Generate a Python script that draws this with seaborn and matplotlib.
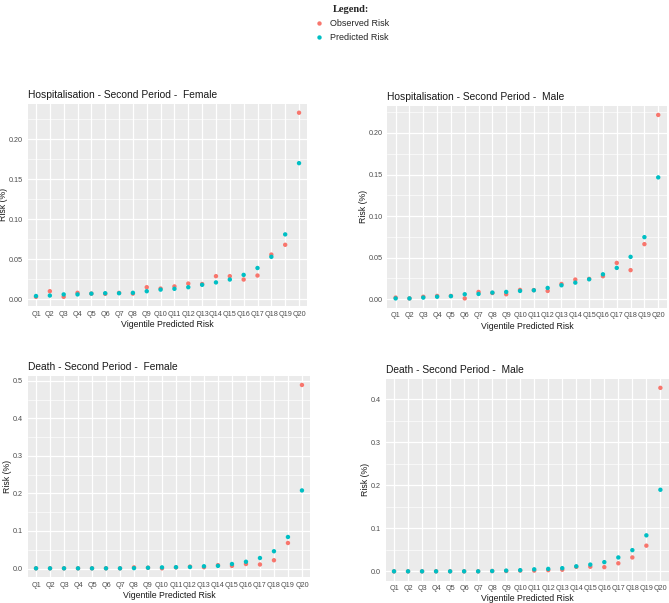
import matplotlib
matplotlib.use("Agg")
import matplotlib.pyplot as plt
import pandas as pd
import seaborn as sns
from matplotlib.ticker import FixedLocator, MultipleLocator

sns.set_theme(style="darkgrid")
plt.rcParams["font.family"] = ["Liberation Sans", "DejaVu Sans"]

# Vigentile categories
quantiles = ["Q" + str(i) for i in range(1, 21)]

# Hospitalisation - female
hosp_f_obs = [0.003, 0.010, 0.003, 0.008, 0.007, 0.0067, 0.0079, 0.007, 0.015, 0.0133,
              0.016, 0.0196, 0.019, 0.0288, 0.0288, 0.0246, 0.0296, 0.0558, 0.068, 0.233]
hosp_f_pred = [0.004, 0.0046, 0.006, 0.006, 0.007, 0.0075, 0.0075, 0.008, 0.010, 0.012,
               0.013, 0.015, 0.018, 0.021, 0.0246, 0.0304, 0.039, 0.053, 0.081, 0.170]

# Hospitalisation - male
hosp_m_obs = [0.002, 0.001, 0.003, 0.004, 0.004, 0.001, 0.0088, 0.0075, 0.006, 0.0112,
              0.011, 0.010, 0.0184, 0.0237, 0.0245, 0.0277, 0.0437, 0.035, 0.0663, 0.2217]
hosp_m_pred = [0.001, 0.001, 0.002, 0.003, 0.0037, 0.006, 0.0064, 0.008, 0.0088, 0.010,
               0.0108, 0.0136, 0.0168, 0.020, 0.024, 0.030, 0.0377, 0.051, 0.0747, 0.1466]

# Death - female
death_f_obs = [0.0005, 0.0005, 0.0005, 0.0005, 0.0005, 0.0005, 0.0005, 0.003, 0.002, 0.0005,
               0.003, 0.005, 0.0035, 0.009, 0.007, 0.012, 0.0107, 0.022, 0.068, 0.489]
death_f_pred = [0.0005, 0.0005, 0.0005, 0.0005, 0.0005, 0.0005, 0.0005, 0.001, 0.002, 0.003,
                0.0035, 0.004, 0.006, 0.007, 0.012, 0.018, 0.028, 0.046, 0.084, 0.208]

# Death - male
death_m_obs = [0.0003, 0.0003, 0.0003, 0.0003, 0.0003, 0.0003, 0.0003, 0.001, 0.001, 0.002,
               0.002, 0.003, 0.004, 0.0107, 0.011, 0.010, 0.019, 0.0326, 0.060, 0.427]
death_m_pred = [0.0003, 0.0003, 0.0003, 0.0003, 0.0003, 0.0003, 0.0003, 0.001, 0.002, 0.003,
                0.005, 0.006, 0.0077, 0.012, 0.016, 0.0217, 0.0326, 0.0496, 0.084, 0.190]

colors = {"Observed Risk": "#F8766D", "Predicted Risk": "#00BFC4"}


def long_df(obs, pred):
    d1 = pd.DataFrame({"q": range(20), "risk": obs, "type": "Observed Risk"})
    d2 = pd.DataFrame({"q": range(20), "risk": pred, "type": "Predicted Risk"})
    return pd.concat([d1, d2], ignore_index=True)


panels = [
    ("Hospitalisation - Second Period -  Female", hosp_f_obs, hosp_f_pred,
     [0.0414, 0.4925, 0.418, 0.3358], [0.0, 0.05, 0.10, 0.15, 0.20], "{:.2f}"),
    ("Hospitalisation - Second Period -  Male", hosp_m_obs, hosp_m_pred,
     [0.579, 0.4899, 0.4173, 0.3347], [0.0, 0.05, 0.10, 0.15, 0.20], "{:.2f}"),
    ("Death - Second Period -  Female", death_f_obs, death_f_pred,
     [0.0413, 0.0423, 0.4226, 0.3345], [0.0, 0.1, 0.2, 0.3, 0.4, 0.5], "{:.1f}"),
    ("Death - Second Period -  Male", death_m_obs, death_m_pred,
     [0.5764, 0.0373, 0.4233, 0.3347], [0.0, 0.1, 0.2, 0.3, 0.4], "{:.1f}"),
]

fig = plt.figure(figsize=(6.69, 6.03), dpi=100)
handles, labels = None, None

for title, obs, pred, pos, yticks, fmt in panels:
    ax = fig.add_axes(pos)
    ax.set_facecolor("#EBEBEB")
    df = long_df(obs, pred)
    sns.scatterplot(data=df, x="q", y="risk", hue="type", palette=colors,
                    s=10, linewidth=0, ax=ax, legend=True)
    if handles is None:
        handles, labels = ax.get_legend_handles_labels()
    ax.get_legend().remove()

    ax.set_xlim(-0.6, 19.6)
    ax.margins(y=0.05)
    ax.set_xticks(range(20))
    ax.set_xticklabels(quantiles)
    ax.yaxis.set_major_locator(FixedLocator(yticks))
    ax.set_yticklabels([fmt.format(v) for v in yticks])
    step = yticks[1] - yticks[0]
    ax.yaxis.set_minor_locator(MultipleLocator(step / 2))
    ax.grid(which="major", color="white", linewidth=0.9)
    ax.grid(which="minor", axis="y", color="white", linewidth=0.45)
    ax.grid(which="minor", axis="x", visible=False)
    for sp in ax.spines.values():
        sp.set_visible(False)
    ax.tick_params(axis="both", which="major", labelsize=5.2, colors="#333333",
                   labelcolor="#4D4D4D", length=2, width=0.5, pad=1.5)
    ax.tick_params(axis="both", which="minor", length=0)
    ax.set_xlabel("Vigentile Predicted Risk", fontsize=6.3, color="#1A1A1A", labelpad=1.5)
    ax.set_ylabel("Risk (%)", fontsize=6.3, color="#1A1A1A", labelpad=0.5)
    ax.set_title(title, loc="left", fontsize=7.4, color="#1A1A1A", pad=4)

leg = fig.legend(handles, labels, title="Legend:", loc="upper center",
                 bbox_to_anchor=(0.525, 1.0), frameon=False, fontsize=6.5,
                 markerscale=1.0, handletextpad=0.6, labelspacing=0.55,
                 handlelength=1.2, borderpad=0.1)
leg.get_title().set_fontfamily("Liberation Serif")
leg.get_title().set_fontweight("bold")
leg.get_title().set_fontsize(7.5)

fig.savefig("out.png", dpi=100)
